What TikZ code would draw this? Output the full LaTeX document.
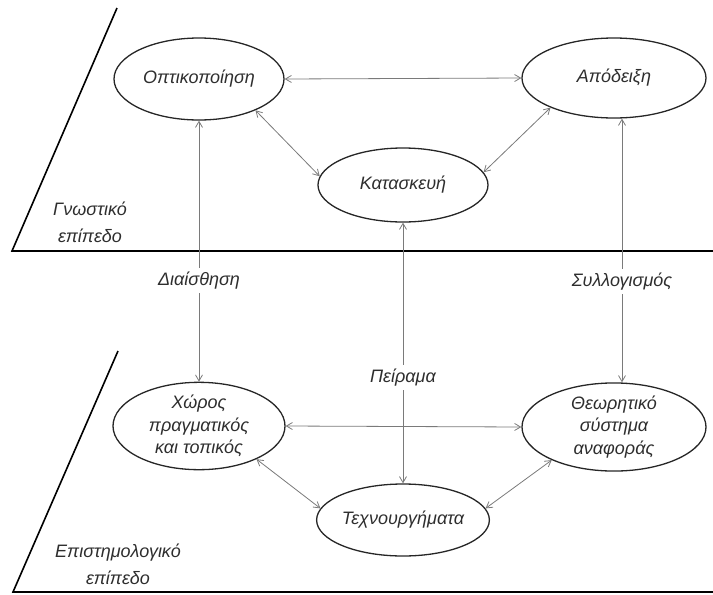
\documentclass[tikz,border=0pt]{standalone}
\usepackage{fontspec}
\setmainfont{Liberation Sans}
\usetikzlibrary{shapes.geometric,arrows.meta}
\definecolor{txt}{HTML}{2E2E2E}
\definecolor{conn}{HTML}{7A7A7A}
\begin{document}
\begin{tikzpicture}[x=1pt,y=-1pt,
  concept/.style={ellipse,draw=black!85,line width=1.3pt,inner sep=0pt,align=center,
    text=txt,font=\fontsize{18}{22.5}\selectfont\itshape},
  lbl/.style={text=txt,font=\fontsize{18}{22}\selectfont\itshape,align=center},
  plbl/.style={text=txt,font=\fontsize{18}{27}\selectfont\itshape,align=center},
  conn/.style={draw=conn,line width=0.8pt,{Straight Barb[length=6pt,width=7pt]}-{Straight Barb[length=6pt,width=7pt]}},
  plane/.style={draw=black,line width=1.6pt}]
\useasboundingbox (0,0) rectangle (713,595);
% planes
\coordinate (p1) at (117,8); \coordinate (p2) at (12,251); \coordinate (p3) at (713,251);
\coordinate (q1) at (118,351); \coordinate (q2) at (13,592); \coordinate (q3) at (713,592);
\draw[plane] (p1) -- (p2) -- (p3);
\draw[plane] (q1) -- (q2) -- (q3);
% nodes
\node[concept,minimum width=170pt,minimum height=82pt] (o) at (199,79) {Οπτικοποίηση};
\node[concept,minimum width=184pt,minimum height=80pt] (a) at (614,78) {Απόδειξη};
\node[concept,minimum width=170pt,minimum height=74pt] (k) at (403,185) {Κατασκευή};
\node[concept,minimum width=172pt,minimum height=80pt] (c) at (199,426) {Χώρος\\πραγματικός\\και τοπικός};
\node[concept,minimum width=184pt,minimum height=82pt] (th) at (614,427) {Θεωρητικό\\σύστημα\\αναφοράς};
\node[concept,minimum width=170pt,minimum height=72pt] (t) at (403,520) {Τεχνουργήματα};
\node[plbl] (g) at (90,222) {Γνωστικό\\επίπεδο};
\node[plbl] (e) at (118,564) {Επιστημολογικό\\επίπεδο};
% connectors
\draw[conn] (o.east) -- (a.west);
\draw[conn] (o.-29) -- (k.174);
\draw[conn] (k.9) -- (a.205);
\draw[conn] (c.east) -- (th.west);
\draw[conn] (c.-30) -- (t.172);
\draw[conn] (t.8) -- (th.208);
\draw[conn] (o.south) -- node[pos=0.613,fill=white,lbl,inner xsep=2pt,inner ysep=4pt] (d) {Διαίσθηση} (c.north);
\draw[conn] ([xshift=8pt]a.south) -- node[pos=0.618,fill=white,lbl,inner xsep=2pt,inner ysep=4pt] (s) {Συλλογισμός} ([xshift=8pt]th.north);
\draw[conn] (k.south) -- node[pos=0.595,fill=white,lbl,inner xsep=2pt,inner ysep=4pt] (pe) {Πείραμα} (t.north);
\end{tikzpicture}
\end{document}
